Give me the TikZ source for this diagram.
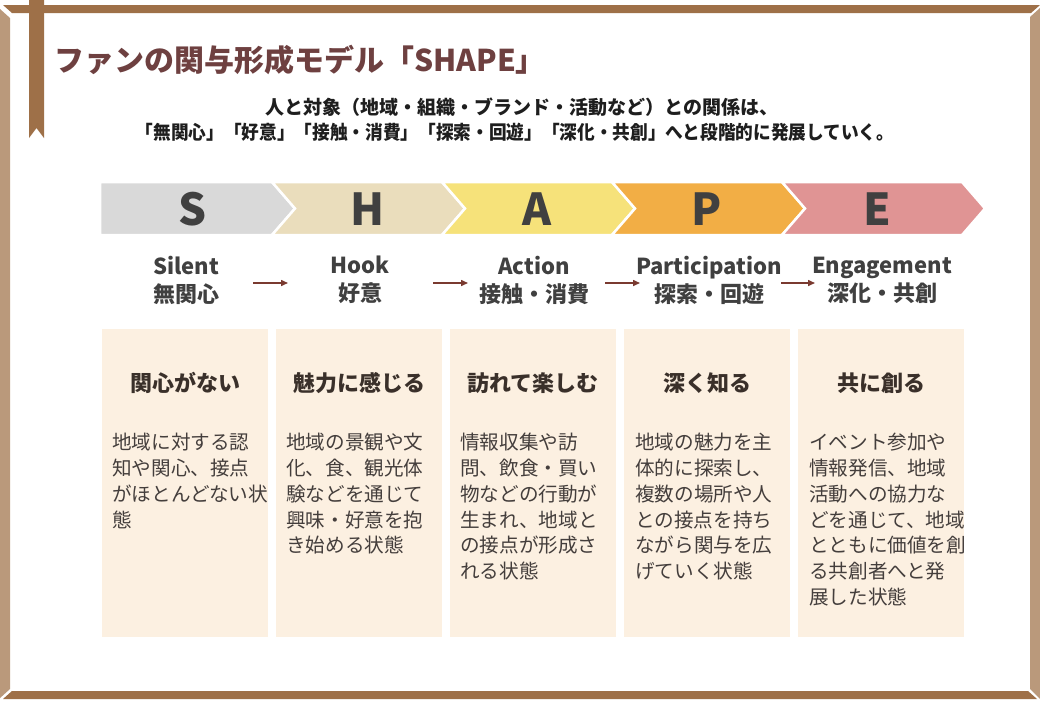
\documentclass[tikz,border=0pt]{standalone}
\usepackage{fontspec}
\setmainfont{Noto Sans CJK JP}
\usetikzlibrary{arrows.meta}
\definecolor{frameD}{RGB}{158,112,72}
\definecolor{frameL}{RGB}{186,153,123}
\definecolor{titleC}{RGB}{110,64,64}
\definecolor{subC}{RGB}{30,30,30}
\definecolor{letterC}{RGB}{64,64,64}
\definecolor{labelC}{RGB}{64,64,64}
\definecolor{arrowC}{RGB}{122,58,48}
\definecolor{cardC}{RGB}{252,240,225}
\definecolor{cardT}{RGB}{58,48,42}
\definecolor{bodyC}{RGB}{68,62,60}
\definecolor{cS}{RGB}{217,217,217}
\definecolor{cH}{RGB}{234,221,188}
\definecolor{cA}{RGB}{246,226,122}
\definecolor{cP}{RGB}{242,174,69}
\definecolor{cE}{RGB}{224,148,148}
\tikzset{
  chev/.style={fill=#1, draw=white, line width=2.5pt, line join=miter},
  letter/.style={font=\fontsize{44}{44}\selectfont\bfseries, text=letterC},
  stage/.style={font=\fontsize{22}{28}\selectfont\bfseries, text=labelC, align=center},
  flow/.style={draw=arrowC, line width=1.5pt, -{Triangle[length=7pt,width=6pt]}},
  card/.style={fill=cardC, minimum width=166pt, minimum height=308pt, inner sep=0pt},
  cardtitle/.style={font=\fontsize{22}{22}\selectfont\bfseries, text=cardT},
  cardbody/.style={font=\fontsize{19.6}{25.8}\selectfont, text=bodyC, align=left, anchor=north west, inner sep=0pt},
}
\begin{document}
\begin{tikzpicture}[x=1pt,y=-1pt]
\useasboundingbox[fill=white] (0,0) rectangle (1040,720);
% frame
\fill[frameD] (3,5) -- (1040,5) -- (1031,13) -- (12,13) -- cycle;
\fill[frameL] (0,9) -- (10,18) -- (10,689) -- (0,698) -- cycle;
\fill[frameL] (1030,17) -- (1040,8) -- (1040,699) -- (1030,689) -- cycle;
\fill[frameD] (12,691) -- (1028,691) -- (1037,699) -- (3,699) -- cycle;
\fill[frameD] (29,0) -- (44,0) -- (44,138) -- (36.5,128) -- (29,138) -- cycle;
% title
\node[anchor=west, inner sep=0pt, font=\fontsize{30}{30}\selectfont\bfseries, text=titleC] (title) at (54,60) {ファンの関与形成モデル「SHAPE」};
\node[font=\fontsize{19}{19}\selectfont\bfseries, text=subC, inner sep=0pt] (sub1) at (522,107) {人と対象（地域・組織・ブランド・活動など）との関係は、};
\node[font=\fontsize{19}{19}\selectfont\bfseries, text=subC, inner sep=0pt] (sub2) at (515,132) {\scalebox{0.93}[1]{「無関心」「好意」「接触・消費」「探索・回遊」「深化・共創」へと段階的に発展していく。}};
% chevrons
\path[chev=cS] (100,182) -- (272,182) -- (295,208.5) -- (272,235) -- (100,235) -- cycle;
\path[chev=cH] (272,182) -- (442,182) -- (465,208.5) -- (442,235) -- (272,235) -- (295,208.5) -- cycle;
\path[chev=cA] (442,182) -- (612,182) -- (635,208.5) -- (612,235) -- (442,235) -- (465,208.5) -- cycle;
\path[chev=cP] (612,182) -- (782,182) -- (805,208.5) -- (782,235) -- (612,235) -- (635,208.5) -- cycle;
\path[chev=cE] (782,182) -- (962,182) -- (985,208.5) -- (962,235) -- (782,235) -- (805,208.5) -- cycle;
\node[letter] (kS) at (193,209) {S};
\node[letter] (kH) at (368,209) {H};
\node[letter] (kA) at (537,209) {A};
\node[letter] (kP) at (707,209) {P};
\node[letter] (kE) at (877,209) {E};
% stage labels
\node[stage] (l1) at (186,280) {Silent\\無関心};
\node[stage] (l2) at (360,280) {Hook\\好意};
\node[stage] (l3) at (534,280) {Action\\接触・消費};
\node[stage] (l4) at (709,280) {Participation\\探索・回遊};
\node[stage] (l5) at (882,280) {Engagement\\深化・共創};
\coordinate (a1s) at (253,283); \coordinate (a1e) at (288,283);
\coordinate (a2s) at (433,283); \coordinate (a2e) at (468,283);
\coordinate (a3s) at (605,283); \coordinate (a3e) at (640,283);
\coordinate (a4s) at (781,283); \coordinate (a4e) at (815,283);
\draw[flow] (a1s) -- (a1e);
\draw[flow] (a2s) -- (a2e);
\draw[flow] (a3s) -- (a3e);
\draw[flow] (a4s) -- (a4e);
% cards
\node[card] (b1) at (185,483) {};
\node[card] (b2) at (359,483) {};
\node[card] (b3) at (533,483) {};
\node[card] (b4) at (707,483) {};
\node[card] (b5) at (881,483) {};
\node[cardtitle] (t1) at (185,383) {関心がない};
\node[cardtitle] (t2) at (359,383) {魅力に感じる};
\node[cardtitle] (t3) at (533,383) {訪れて楽しむ};
\node[cardtitle] (t4) at (707,383) {深く知る};
\node[cardtitle] (t5) at (881,383) {共に創る};
\node[cardbody] (d1) at (112,433) {地域に対する認\\知や関心、接点\\がほとんどない状\\態};
\node[cardbody] (d2) at (286,433) {地域の景観や文\\化、食、観光体\\験などを通じて\\興味・好意を抱\\き始める状態};
\node[cardbody] (d3) at (460,433) {情報収集や訪\\問、飲食・買い\\物などの行動が\\生まれ、地域と\\の接点が形成さ\\れる状態};
\node[cardbody] (d4) at (635,433) {地域の魅力を主\\体的に探索し、\\複数の場所や人\\との接点を持ち\\ながら関与を広\\げていく状態};
\node[cardbody] (d5) at (809,433) {イベント参加や\\情報発信、地域\\活動への協力な\\どを通じて、地域\\とともに価値を創\\る共創者へと発\\展した状態};
\end{tikzpicture}
\end{document}
